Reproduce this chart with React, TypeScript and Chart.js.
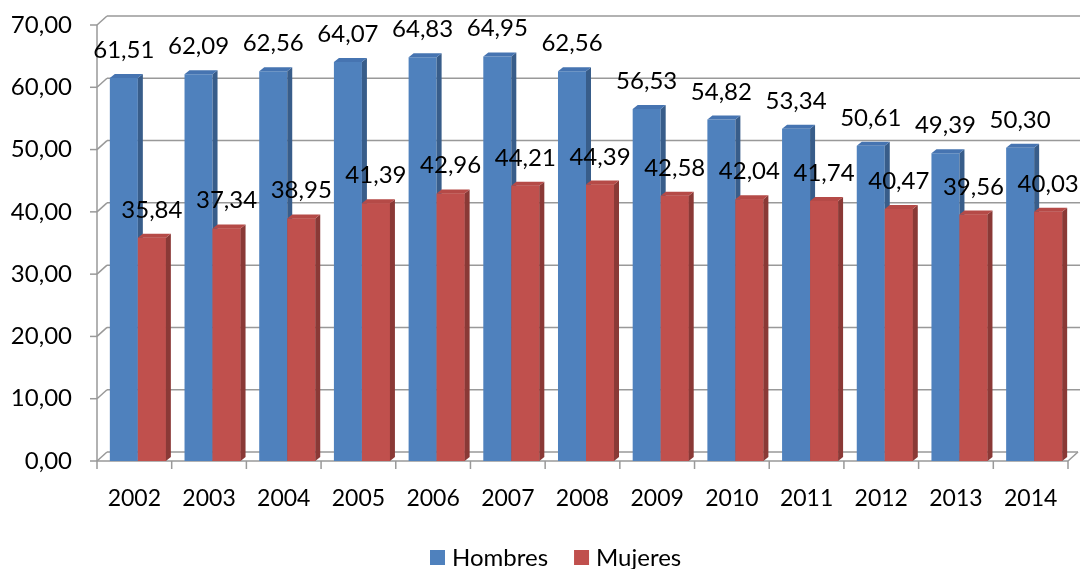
import { useEffect, useRef } from "react";
import { Chart, registerables } from "chart.js";

Chart.register(...registerables);

const years = ["2002", "2003", "2004", "2005", "2006", "2007", "2008", "2009", "2010", "2011", "2012", "2013", "2014"];
const hombres = [61.51, 62.09, 62.56, 64.07, 64.83, 64.95, 62.56, 56.53, 54.82, 53.34, 50.61, 49.39, 50.3];
const mujeres = [35.84, 37.34, 38.95, 41.39, 42.96, 44.21, 44.39, 42.58, 42.04, 41.74, 40.47, 39.56, 40.03];
const seriesNames = ["Hombres", "Mujeres"];

const FONT = "Lato, 'Noto Sans', sans-serif";
const FRONT = ["#4F81BD", "#C0504D"];
const SIDE = ["#385D8A", "#8A3936"];
const TOP = ["#4674B1", "#B54A47"];
const GRID = "#999999";
const WALL_DX = 10;
const WALL_DY = -9;
const BAR_DX = 5;
const BAR_DY = -4;
const BAR_SHIFT = 3.5;

const fmt = (v: number) => v.toFixed(2).replace(".", ",");

const line = (ctx: CanvasRenderingContext2D, x1: number, y1: number, x2: number, y2: number) => {
  ctx.beginPath();
  ctx.moveTo(x1, y1);
  ctx.lineTo(x2, y2);
  ctx.stroke();
};

const poly = (ctx: CanvasRenderingContext2D, pts: number[][], fill: string) => {
  ctx.beginPath();
  ctx.moveTo(pts[0][0], pts[0][1]);
  for (let i = 1; i < pts.length; i++) ctx.lineTo(pts[i][0], pts[i][1]);
  ctx.closePath();
  ctx.fillStyle = fill;
  ctx.fill();
};

const threeD = {
  id: "threeD",
  beforeDatasetsDraw(chart: any) {
    const { ctx, chartArea: a, scales } = chart;
    const x = scales.x;
    const y = scales.y;
    ctx.save();
    ctx.strokeStyle = GRID;
    ctx.lineWidth = 1.5;
    for (const t of y.ticks) {
      const py = y.getPixelForValue(t.value);
      const endX = t.value === 0 ? a.right + WALL_DX : chart.width;
      line(ctx, a.left + WALL_DX, py + WALL_DY, endX, py + WALL_DY);
      line(ctx, a.left, py, a.left + WALL_DX, py + WALL_DY);
      line(ctx, a.left - 7, py, a.left, py);
    }
    line(ctx, a.left, a.top, a.left, a.bottom);
    line(ctx, a.left, a.bottom, a.right, a.bottom);
    line(ctx, a.right, a.bottom, a.right + WALL_DX, a.bottom + WALL_DY);
    const step = x.getPixelForValue(1) - x.getPixelForValue(0);
    for (let i = 0; i <= years.length; i++) {
      const px = x.getPixelForValue(i) - step / 2;
      line(ctx, px, a.bottom, px, a.bottom + 8);
    }
    ctx.restore();
    ctx.save();
    ctx.translate(BAR_SHIFT, 0);
  },
  afterDatasetsDraw(chart: any) {
    const { ctx } = chart;
    const metas = [chart.getDatasetMeta(0), chart.getDatasetMeta(1)];
    metas.forEach((meta: any, di: number) => {
      meta.data.forEach((bar: any) => {
        if (di > 0) bar.draw(ctx);
        const { x, y, base, width } = bar.getProps(["x", "y", "base", "width"], true);
        const l = x - width / 2;
        const r = x + width / 2;
        poly(ctx, [[r, y], [r + BAR_DX, y + BAR_DY], [r + BAR_DX, base + BAR_DY], [r, base]], SIDE[di]);
        poly(ctx, [[l, y], [l + BAR_DX, y + BAR_DY], [r + BAR_DX, y + BAR_DY], [r, y]], TOP[di]);
      });
    });
    ctx.fillStyle = "#000";
    ctx.font = `24px ${FONT}`;
    ctx.textAlign = "center";
    ctx.textBaseline = "alphabetic";
    metas.forEach((meta: any, di: number) => {
      const values = di === 0 ? hombres : mujeres;
      meta.data.forEach((bar: any, i: number) => {
        const { x, y } = bar.getProps(["x", "y"], true);
        ctx.fillText(fmt(values[i]), x, y - 20);
      });
    });
    ctx.restore();
  },
  afterDraw(chart: any) {
    const { ctx } = chart;
    ctx.save();
    ctx.font = `24px ${FONT}`;
    ctx.textBaseline = "middle";
    ctx.textAlign = "left";
    const cy = 557.5;
    let px = 430;
    seriesNames.forEach((name, i) => {
      ctx.fillStyle = FRONT[i];
      ctx.fillRect(px, cy - 7.5, 15, 15);
      ctx.fillStyle = "#000";
      ctx.fillText(name, px + 22, cy + 1);
      px += 22 + ctx.measureText(name).width + 26;
    });
    ctx.restore();
  },
};

export default function App() {
  const ref = useRef<HTMLCanvasElement | null>(null);
  useEffect(() => {
    document.body.style.margin = "0";
    if (!ref.current) return;
    const chart = new Chart(ref.current, {
      type: "bar",
      data: {
        labels: years,
        datasets: [
          { label: seriesNames[0], data: hombres, backgroundColor: FRONT[0], borderWidth: 0 },
          { label: seriesNames[1], data: mujeres, backgroundColor: FRONT[1], borderWidth: 0 },
        ],
      },
      options: {
        responsive: true,
        maintainAspectRatio: false,
        animation: false,
        layout: { padding: { top: 25, right: 12, left: 0, bottom: 0 } },
        datasets: { bar: { categoryPercentage: 0.75, barPercentage: 1 } },
        plugins: { legend: { display: false }, tooltip: { enabled: false } },
        scales: {
          x: {
            grid: { display: false, drawTicks: false },
            border: { display: false },
            ticks: { color: "#000", font: { family: FONT, size: 23 }, padding: 24, maxRotation: 0 },
            afterFit: (s: any) => {
              s.height = 108;
              s.paddingLeft = 0;
              s.paddingRight = 0;
            },
          },
          y: {
            min: 0,
            max: 70,
            grid: { display: false, drawTicks: false },
            border: { display: false },
            ticks: {
              stepSize: 10,
              color: "#000",
              font: { family: FONT, size: 24 },
              padding: 25,
              callback: (v: any) => fmt(Number(v)),
            },
            afterFit: (s: any) => {
              s.width = 97;
              s.paddingTop = 0;
              s.paddingBottom = 0;
            },
          },
        },
      },
      plugins: [threeD],
    });
    return () => chart.destroy();
  }, []);
  return (
    <div style={{ width: 1080, height: 569, position: "relative" }}>
      <canvas ref={ref} />
    </div>
  );
}
